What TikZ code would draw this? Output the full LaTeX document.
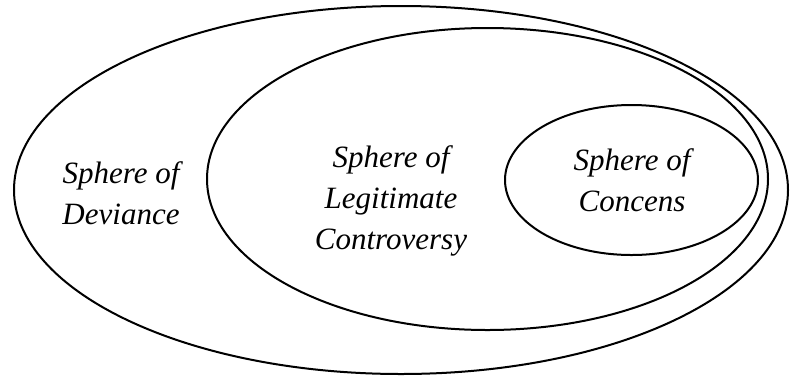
\documentclass[tikz,border=0pt]{standalone}
\usepackage{fontspec}
\newfontfamily\lblfont{Liberation Serif Italic}
\begin{document}
\begin{tikzpicture}[x=1pt,y=-1pt,
  sphere/.style={draw=black,line width=2pt},
  lbl/.style={align=center,font=\lblfont\fontsize{31}{41}\selectfont,inner sep=0pt}]
\useasboundingbox (0,0) rectangle (790,376);
\draw[sphere] (401,190) ellipse [x radius=387, y radius=184];
\draw[sphere] (487.5,179) ellipse [x radius=280.5, y radius=151];
\draw[sphere] (631.5,180) ellipse [x radius=126.5, y radius=75];
\node[lbl] (dev) at (121,193) {Sphere of\\Deviance};
\node[lbl] (leg) at (391,201) {Sphere of\\Legitimate\\Controversy};
\node[lbl] (con) at (632,180) {Sphere of\\Concens};
\end{tikzpicture}
\end{document}
